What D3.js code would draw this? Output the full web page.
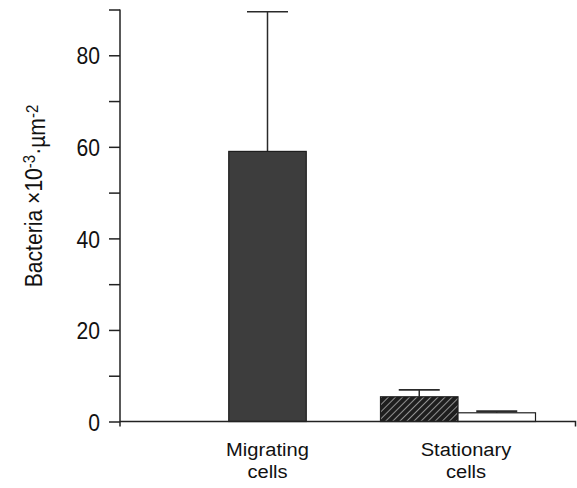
<!DOCTYPE html>
<html>
<head>
<meta charset="utf-8">
<script src="https://cdn.jsdelivr.net/npm/d3@7"></script>
<style>
  html, body { margin: 0; padding: 0; background: #fff; }
  svg { display: block; }
  text { font-family: "Liberation Sans", Arial, Helvetica, sans-serif; fill: #111; }
</style>
</head>
<body>
<svg id="chart" width="577" height="488"></svg>
<script>
// ---- data ----
const categories = ["Migrating", "Stationary"];
const categoryLabels = [["Migrating", "cells"], ["Stationary", "cells"]];
const barGroup  = [0, 1, 1];                 // which category each bar belongs to
const barSlot   = [-0.5, -1, 0];             // bar offset within group (in bar widths)
const barStyle  = ["solid", "hatched", "open"];
const barValues = [59, 5.4, 1.9];
const barErrors = [30.5, 1.5, 0.3];
const yTicksMajor = [0, 20, 40, 60, 80];
const yTicksMinor = [10, 30, 50, 70, 90];
const yMax = 90;

// ---- layout ----
const svg = d3.select("#chart");
const axisX = 120, axisBottom = 421.5, axisTop = 9.5, axisRight = 575.5;
const barW = 77.5;
const squeeze = 0.88;

const y = d3.scaleLinear().domain([0, yMax]).range([axisBottom, axisTop]);
const x = d3.scaleLinear().domain([0, 1]).range([267.5, 458]);

// hatch pattern
const defs = svg.append("defs");
const pat = defs.append("pattern")
  .attr("id", "hatch").attr("patternUnits", "userSpaceOnUse")
  .attr("width", 5).attr("height", 5)
  .attr("patternTransform", "rotate(45)");
pat.append("rect").attr("width", 5).attr("height", 5).attr("fill", "#1e1e1e");
pat.append("line").attr("x1", 0).attr("y1", 0).attr("x2", 0).attr("y2", 5)
  .attr("stroke", "#d0d0d0").attr("stroke-width", 1.3);

const fills = { solid: "#3d3d3d", hatched: "url(#hatch)", open: "#ffffff" };

// bars
const bars = barValues.map((v, i) => ({
  v, e: barErrors[i], style: barStyle[i],
  x0: x(barGroup[i]) + barSlot[i] * barW
}));

// error bars
const eb = svg.append("g").attr("stroke", "#2a2a2a").attr("fill", "none");
bars.forEach(b => {
  const cx = b.x0 + barW / 2;
  eb.append("line").attr("x1", cx).attr("x2", cx)
    .attr("y1", y(b.v)).attr("y2", y(b.v + b.e)).attr("stroke-width", 1.5);
  eb.append("line").attr("x1", cx - 20.5).attr("x2", cx + 20.5)
    .attr("y1", y(b.v + b.e)).attr("y2", y(b.v + b.e))
    .attr("stroke-width", b.style === "open" ? 2.2 : 1.6);
});

svg.append("g").selectAll("rect").data(bars).join("rect")
  .attr("x", d => d.x0)
  .attr("y", d => y(d.v))
  .attr("width", barW)
  .attr("height", d => y(0) - y(d.v))
  .attr("fill", d => fills[d.style])
  .attr("stroke", "#1e1e1e")
  .attr("stroke-width", 1.2);

// y axis
const yAxis = d3.axisLeft(y)
  .tickValues(yTicksMajor.concat(yTicksMinor))
  .tickSize(11)
  .tickSizeOuter(0)
  .tickPadding(9)
  .tickFormat(d => yTicksMajor.includes(d) ? d3.format("d")(d) : "");
const gy = svg.append("g").attr("transform", `translate(${axisX},0)`).call(yAxis);
gy.select(".domain").attr("stroke", "#222").attr("stroke-width", 1.5)
  .attr("d", `M0,${axisTop}V${axisBottom + 5}`);
gy.selectAll(".tick line").attr("stroke", "#222").attr("stroke-width", 1.5);
gy.selectAll(".tick text")
  .style("font-size", "24px")
  .attr("fill", "#111")
  .attr("dy", "0.36em")
  .attr("x", -20 / squeeze)
  .attr("transform", `scale(${squeeze},1)`);

// x axis line
svg.append("path")
  .attr("d", `M${axisX},${axisBottom}H${axisRight}V${axisBottom + 5}`)
  .attr("stroke", "#222").attr("stroke-width", 1.5).attr("fill", "none");

// category labels
const lab = svg.append("g").attr("text-anchor", "middle").style("font-size", "19px");
categoryLabels.forEach((lines, i) => {
  lines.forEach((s, j) => {
    lab.append("text")
      .attr("transform", `translate(${x(i) + (i === 1 ? 8 : 0)},${456 + j * 22}) scale(1.06,1)`)
      .text(s);
  });
});

// y label
const yl = svg.append("text")
  .attr("transform", `translate(42,196) rotate(-90) scale(${squeeze},1)`)
  .attr("text-anchor", "middle")
  .style("font-size", "24px");
yl.append("tspan").text("Bacteria \u00d710");
yl.append("tspan").attr("dy", "-0.42em").style("font-size", "17px").text("-3");
yl.append("tspan").attr("dy", "0.42em").text("\u00b7\u00b5m");
yl.append("tspan").attr("dy", "-0.42em").style("font-size", "17px").text("-2");
</script>
</body>
</html>
